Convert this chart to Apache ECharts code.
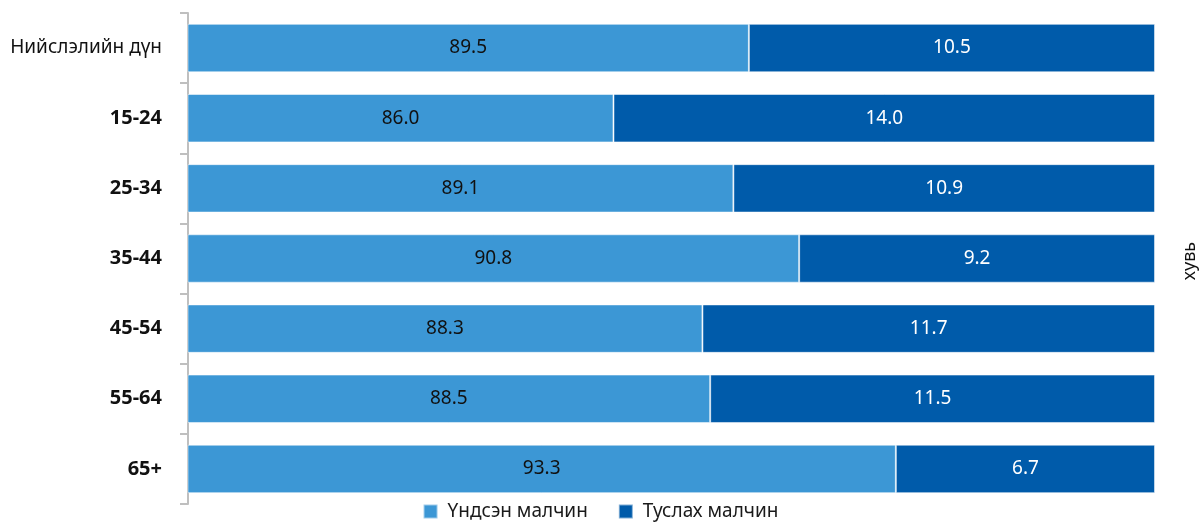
<!DOCTYPE html>
<html><head><meta charset="utf-8">
<script src="https://cdn.jsdelivr.net/npm/echarts@6/dist/echarts.min.js"></script>
<style>html,body{margin:0;padding:0;background:#fff}#c{width:1201px;height:522px}</style>
</head><body><div id="c"></div>
<script>
const categories = ['Нийслэлийн дүн','15-24','25-34','35-44','45-54','55-64','65+'];
const mainHerders = [89.5, 86.0, 89.1, 90.8, 88.3, 88.5, 93.3];
const assistHerders = [10.5, 14.0, 10.9, 9.2, 11.7, 11.5, 6.7];
const seriesNames = ['Үндсэн малчин', 'Туслах малчин'];
const unitLabel = 'хувь';

const chart = echarts.init(document.getElementById('c'));
const font = '"Noto Sans", "Open Sans", sans-serif';
chart.setOption({
  animation: false,
  textStyle: {fontFamily: font},
  grid: {left: 188, right: 46, top: 13, bottom: 18, containLabel: false},
  legend: {
    bottom: -4, left: 'center', itemWidth: 14, itemHeight: 14, itemGap: 30,
    icon: 'rect',
    textStyle: {fontSize: 19, color: '#1a1a1a', fontFamily: font, padding: [0, 0, 0, 5]},
    data: seriesNames
  },
  xAxis: {type: 'value', min: 75, max: 100, show: false},
  yAxis: {
    type: 'category', inverse: true, data: categories,
    axisLine: {show: true, lineStyle: {color: '#BFBFBF', width: 2}},
    axisTick: {show: true, length: 8, lineStyle: {color: '#BFBFBF', width: 2}},
    axisLabel: {
      margin: 26, fontSize: 20, color: '#111', fontFamily: font,
      formatter: function(v, i){ return i === 0 ? '{n|' + v + '}' : '{b|' + v + '}'; },
      rich: {n: {fontSize: 19, fontWeight: 'normal', color: '#111', fontFamily: font},
             b: {fontSize: 20, fontWeight: 'bold', color: '#111', fontFamily: font}}
    },
    splitLine: {show: false}
  },
  series: [
    {name: seriesNames[0], type: 'bar', stack: 't', data: mainHerders, barCategoryGap: '31%',
     itemStyle: {color: '#3C97D5', borderColor: 'rgba(255,255,255,0.5)', borderWidth: 1},
     label: {show: true, position: 'inside', fontSize: 19, color: '#111', fontFamily: font,
             formatter: p => p.value.toFixed(1)}},
    {name: seriesNames[1], type: 'bar', stack: 't', data: assistHerders, barCategoryGap: '31%',
     itemStyle: {color: '#005BAA', borderColor: 'rgba(255,255,255,0.5)', borderWidth: 1},
     label: {show: true, position: 'inside', fontSize: 19, color: '#fff', fontFamily: font,
             formatter: p => p.value.toFixed(1)}}
  ],
  graphic: [{
    type: 'text', left: 1181, top: 'middle', rotation: Math.PI/2,
    style: {text: unitLabel, fill: '#111', font: '18px ' + font}
  }]
});
</script></body></html>
